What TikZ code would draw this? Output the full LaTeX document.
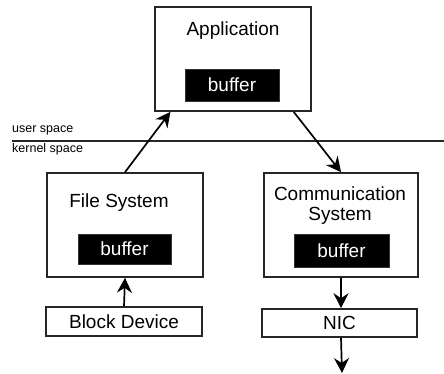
\documentclass[tikz,border=0pt]{standalone}
\usepackage{fontspec}
\setmainfont{Liberation Sans}
\usetikzlibrary{arrows.meta,calc}
\begin{document}
\begin{tikzpicture}[x=1pt,y=-1pt,
  frame/.style={draw=black!85, line width=1.6pt, inner sep=0pt},
  buf/.style={fill=black, draw=black!80, line width=0.8pt, text=white, inner sep=0pt, font=\fontsize{19}{21}\selectfont},
  lbl/.style={inner sep=0pt, font=\fontsize{19}{22}\selectfont, align=center},
  small/.style={inner sep=0pt, anchor=west, font=\fontsize{12.5}{14}\selectfont},
  arr/.style={line width=1.7pt, -{Stealth[length=15pt,width=15pt,inset=5pt]}}]
\useasboundingbox (0,0) rectangle (444,373);
% Application
\node[frame, minimum width=156pt, minimum height=104pt] (app) at (233,59) {};
\node[lbl] (apptxt) at (233,31) {Application};
\node[buf, minimum width=94pt, minimum height=32pt] (appbuf) at (232,85) {buffer};
% user/kernel line
\coordinate (ls) at (12,141);
\coordinate (le) at (444,141);
\draw[line width=1.4pt, black!85] (ls) -- (le);
\node[small] (us) at (12,130) {user space};
\node[small] (ks) at (12,149) {kernel space};
% File System
\node[frame, minimum width=156pt, minimum height=104pt] (fs) at (125,225) {};
\node[lbl] (fstxt) at (119,203) {File System};
\node[buf, minimum width=93pt, minimum height=30pt] (fsbuf) at (124.5,249) {buffer};
% Block device
\node[frame, minimum width=156pt, minimum height=29pt, font=\fontsize{19}{22}\selectfont] (bd) at (124,321.5) {Block Device};
% Communication system
\node[frame, minimum width=154pt, minimum height=104pt] (cs) at (341,225) {};
\node[lbl] (cstxt) at (340,206) {Communication\\[-2pt]System};
\node[buf, minimum width=95pt, minimum height=33pt] (csbuf) at (341.5,250.5) {buffer};
% NIC
\node[frame, minimum width=155pt, minimum height=28pt, font=\fontsize{19}{22}\selectfont] (nic) at (339.5,323) {NIC};
\coordinate (out) at (342,373);
% arrows
\draw[arr] (fs.north) -- ($(app.south west)!0.103!(app.south east)$);
\draw[arr] ($(app.south west)!0.885!(app.south east)$) -- (cs.north);
\draw[arr] (bd.north) -- (fs.south);
\draw[arr] (cs.south) -- (cs.south |- nic.north);
\draw[arr] (nic.south -| cs.south) -- (out);
\end{tikzpicture}
\end{document}
